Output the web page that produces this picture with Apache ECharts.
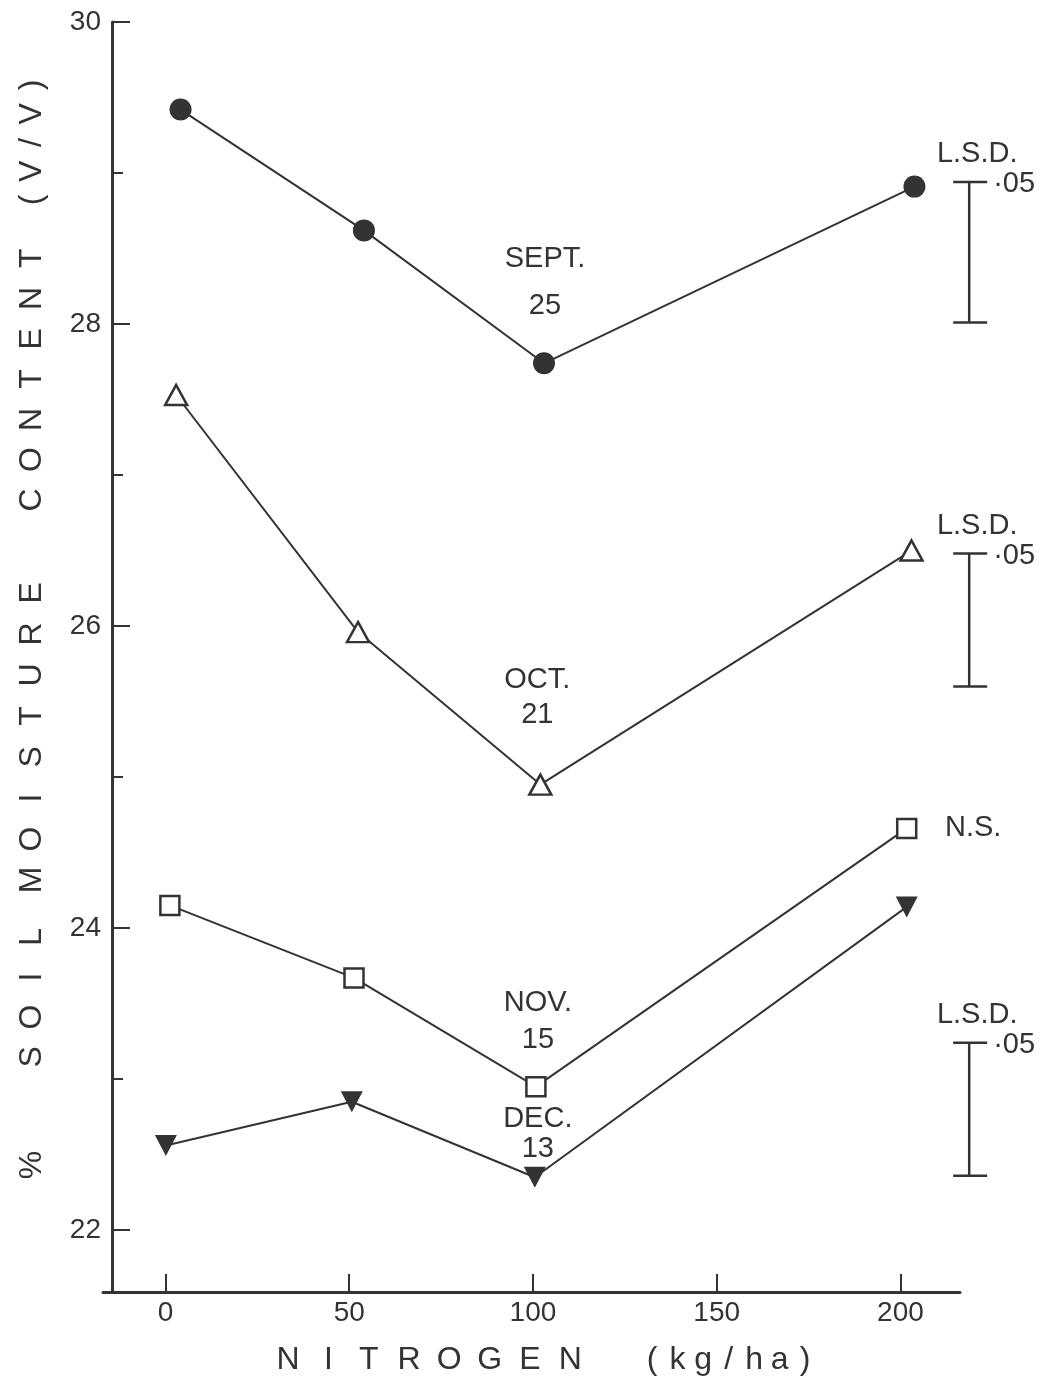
<!DOCTYPE html>
<html>
<head>
<meta charset="utf-8">
<script src="https://cdn.jsdelivr.net/npm/echarts@6/dist/echarts.min.js"></script>
<style>
  html, body { margin: 0; padding: 0; background: #ffffff; }
  #chart { width: 1045px; height: 1385px; }
</style>
</head>
<body>
<div id="chart"></div>
<script>
// Soil moisture (% v/v) against nitrogen rate (kg/ha), one series per sampling date
const sepX = [4.1, 54.0, 103.0, 203.8];
const sepY = [29.42, 28.62, 27.74, 28.91];
const octX = [2.9, 52.4, 102.0, 203.0];
const octY = [27.53, 25.96, 24.95, 26.50];
const novX = [1.2, 51.3, 100.8, 201.7];
const novY = [24.15, 23.67, 22.95, 24.66];
const decX = [0.1, 50.7, 100.5, 201.7];
const decY = [22.56, 22.85, 22.35, 24.14];
const dateLabels = ['SEPT.\n25', 'OCT.\n21', 'NOV.\n15', 'DEC.\n13'];

// Least significant difference (P = .05) bars; null = not significant
const lsdTop = [28.94, 26.48, null, 23.24];
const lsdBottom = [28.01, 25.60, null, 22.36];

// Axis ticks
const xTicks = [0, 50, 100, 150, 200];
const yTicks = [22, 24, 26, 28, 30];
const yMinorTicks = [23, 25, 27, 29];

const INK = '#333333';
const SANS = "'Liberation Sans', Arial, sans-serif";
const LSD_X = 218.7;

// Build a letter-spaced title out of fixed-width rich-text cells
function spacedTitle(cells, fontSize) {
  const rich = {};
  let text = '';
  cells.forEach((c, i) => {
    const key = 'c' + i;
    rich[key] = {
      width: c[1], align: 'center', fontFamily: SANS, fontSize: fontSize, color: INK
    };
    text += '{' + key + '|' + c[0] + '}';
  });
  return { text, rich };
}
function word(str, w) { return str.split('').map(ch => [ch, w]); }

const xTitle = spacedTitle([
  [' ', 22.8], ...word('NITROGEN', 40.3), [' ', 49], ...word('(kg/ha)', 25.5)
], 32);

const yTitle = spacedTitle([
  [' ', 58.4], ['%', 40], [' ', 68], ...word('SOIL', 40), [' ', 16.5],
  ...word('MOISTURE', 41), [' ', 52.35], ...word('CONTENT', 40.3), [' ', 23.6],
  ...word('(V/V)', 28.75)
], 32);

function pairs(xs, ys) { return xs.map((x, i) => [x, ys[i]]); }

// Date annotation above the 100 kg/ha point
function withDateLabel(points, text, lineHeight, distance, dx) {
  return points.map((p, i) => {
    if (i !== 2) return p;
    return {
      value: p,
      label: {
        show: true, position: 'top', formatter: text, distance: distance,
        offset: [dx, 0], lineHeight: lineHeight, align: 'center',
        fontFamily: SANS, fontSize: 29, color: INK
      }
    };
  });
}

const lineStyle = { color: INK, width: 2 };

const series = [
  {
    name: 'Sept 25', type: 'line', symbol: 'circle', symbolSize: 22,
    itemStyle: { color: INK },
    lineStyle: lineStyle,
    data: withDateLabel(pairs(sepX, sepY), dateLabels[0], 47, 23, 1)
  },
  {
    name: 'Oct 21', type: 'line', symbol: 'triangle', symbolSize: [22, 20],
    itemStyle: { color: '#ffffff', borderColor: INK, borderWidth: 2.5 },
    lineStyle: lineStyle,
    data: withDateLabel(pairs(octX, octY), dateLabels[1], 35, 41, -3)
  },
  {
    name: 'Nov 15', type: 'line', symbol: 'rect', symbolSize: 19,
    itemStyle: { color: '#ffffff', borderColor: INK, borderWidth: 2.5 },
    lineStyle: lineStyle,
    data: withDateLabel(pairs(novX, novY), dateLabels[2], 37, 17, 2)
  },
  {
    name: 'Dec 13', type: 'line', symbol: 'triangle', symbolRotate: 180, symbolSize: [22, 21],
    itemStyle: { color: INK },
    lineStyle: lineStyle,
    data: withDateLabel(pairs(decX, decY), dateLabels[3], 30, 3, 3)
  },
  {
    // LSD bars at the right of the plot; "N.S." where no difference was found
    name: 'LSD', type: 'custom', clip: false, silent: true,
    data: lsdTop.map((t, i) => t == null
      ? [LSD_X, novY[3], novY[3], 0]
      : [LSD_X, t, lsdBottom[i], 1]),
    renderItem: function (params, api) {
      const x = api.value(0);
      const pTop = api.coord([x, api.value(1)]);
      const pBot = api.coord([x, api.value(2)]);
      const txt = { fill: INK, fontFamily: SANS, fontSize: 29 };
      if (!api.value(3)) {
        return {
          type: 'text',
          style: Object.assign({ text: 'N.S.', x: pTop[0] + 4, y: pTop[1],
            align: 'center', verticalAlign: 'middle' }, txt)
        };
      }
      const ls = { stroke: INK, lineWidth: 2.5 };
      return {
        type: 'group',
        children: [
          { type: 'line', shape: { x1: pTop[0], y1: pTop[1], x2: pBot[0], y2: pBot[1] }, style: ls },
          { type: 'line', shape: { x1: pTop[0] - 16, y1: pTop[1], x2: pTop[0] + 18, y2: pTop[1] }, style: ls },
          { type: 'line', shape: { x1: pBot[0] - 16, y1: pBot[1], x2: pBot[0] + 18, y2: pBot[1] }, style: ls },
          { type: 'text', style: Object.assign({ text: 'L.S.D.', x: pTop[0] + 8, y: pTop[1] - 28,
            align: 'center', verticalAlign: 'middle' }, txt) },
          { type: 'text', style: Object.assign({ text: '\u00b705', x: pTop[0] + 24, y: pTop[1] + 2,
            align: 'left', verticalAlign: 'middle' }, txt) }
        ]
      };
    }
  }
];

const chart = echarts.init(document.getElementById('chart'), null, { renderer: 'canvas' });
chart.setOption({
  animation: false,
  backgroundColor: '#ffffff',
  grid: { left: 103, right: 85, top: 22, bottom: 93, containLabel: false, outerBoundsMode: 'none' },
  xAxis: {
    type: 'value', min: -17, max: 216.2, position: 'bottom',
    axisLine: { show: true, onZero: false, lineStyle: { color: INK, width: 3 } },
    axisTick: { show: true, inside: true, length: 18, customValues: xTicks, lineStyle: { color: INK, width: 2 } },
    axisLabel: { customValues: xTicks, margin: 7, color: INK, fontFamily: SANS, fontSize: 28 },
    splitLine: { show: false },
    name: xTitle.text, nameLocation: 'middle', nameGap: 52,
    nameTextStyle: { rich: xTitle.rich, color: INK, fontFamily: SANS, fontSize: 32 }
  },
  yAxis: [
    {
      type: 'value', min: 21.59, max: 30, position: 'left', offset: -9,
      axisLine: { show: true, onZero: false, lineStyle: { color: INK, width: 3 } },
      axisTick: { show: true, inside: true, length: 18, customValues: yTicks, lineStyle: { color: INK, width: 2 } },
      axisLabel: { customValues: yTicks, margin: 11, color: INK, fontFamily: SANS, fontSize: 28 },
      splitLine: { show: false },
      name: yTitle.text, nameLocation: 'middle', nameGap: 64, nameRotate: 90,
      nameTextStyle: { rich: yTitle.rich, color: INK, fontFamily: SANS, fontSize: 32 }
    },
    {
      type: 'value', min: 21.59, max: 30, position: 'left', offset: -9,
      axisLine: { show: false, onZero: false },
      axisTick: { show: true, inside: true, length: 11, customValues: yMinorTicks, lineStyle: { color: INK, width: 2 } },
      axisLabel: { show: false },
      splitLine: { show: false }
    }
  ],
  series: series
});
</script>
</body>
</html>
